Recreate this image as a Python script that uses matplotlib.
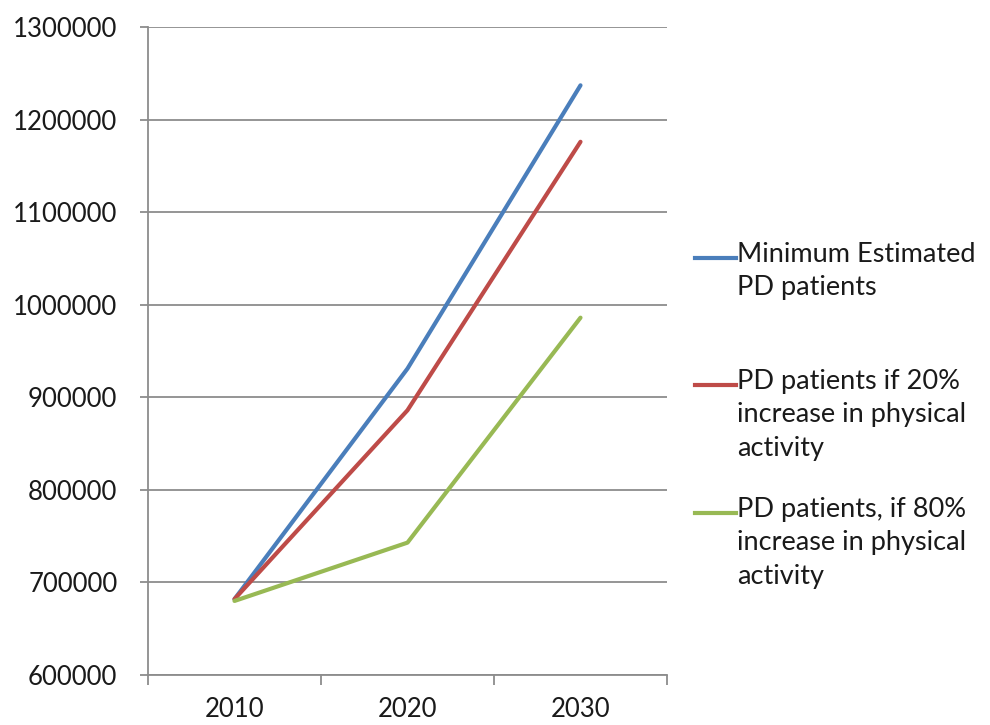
import matplotlib
matplotlib.use("Agg")
import matplotlib.pyplot as plt
from matplotlib.lines import Line2D

plt.rcParams['font.family'] = ['Lato', 'DejaVu Sans']

years = ["2010", "2020", "2030"]
minimum_estimated = [682000, 931000, 1237000]
increase_20 = [682000, 886000, 1176000]
increase_80 = [680000, 743000, 986000]
series_labels = [
    "Minimum Estimated\nPD patients",
    "PD patients if 20%\nincrease in physical\nactivity",
    "PD patients, if 80%\nincrease in physical\nactivity",
]
series_values = [minimum_estimated, increase_20, increase_80]
colors = ["#4A7EBB", "#BE4B48", "#98B954"]
y_ticks = list(range(600000, 1300001, 100000))

W, H = 990, 725
fig = plt.figure(figsize=(W / 100, H / 100), dpi=100)
ax = fig.add_axes([148 / W, 1 - 675 / H, (667 - 148) / W, (675 - 27) / H])

x = list(range(len(years)))
for vals, c in zip(series_values, colors):
    ax.plot(x, vals, color=c, lw=3.0, solid_capstyle='round', solid_joinstyle='round', zorder=3)

ax.set_xlim(-0.5, len(years) - 0.5)
ax.set_ylim(y_ticks[0], y_ticks[-1])
ax.set_yticks(y_ticks)
ax.set_yticklabels([str(v) for v in y_ticks])
ax.set_xticks(x)
ax.set_xticklabels(years)
ax.set_xticks([i - 0.5 for i in range(len(years) + 1)], minor=True)

grid_color = "#8C8C8C"
ax.grid(axis='y', color=grid_color, lw=1.3, zorder=0)
for s in ['top', 'right']:
    ax.spines[s].set_visible(False)
for s in ['left', 'bottom']:
    ax.spines[s].set_color(grid_color)
    ax.spines[s].set_linewidth(1.3)

ax.tick_params(axis='y', length=6, width=1.3, color=grid_color, pad=16, labelsize=18.5, labelcolor='#1a1a1a')
ax.tick_params(axis='x', which='major', length=0, pad=16, labelsize=18.5, labelcolor='#1a1a1a')
ax.tick_params(axis='x', which='minor', length=7, width=1.3, color=grid_color)

# legend (Excel style, handle aligned with first text line)
entry_y = [258, 385, 513]
for lab, c, yy in zip(series_labels, colors, entry_y):
    fig.add_artist(Line2D([695 / W, 736 / W], [1 - yy / H, 1 - yy / H],
                          transform=fig.transFigure, color=c, lw=3.0))
    fig.text(737 / W, 1 - (yy - 16) / H, lab, ha='left', va='top', fontsize=19.5,
             color='#1a1a1a', linespacing=1.42)

fig.savefig("out.png", dpi=100)
